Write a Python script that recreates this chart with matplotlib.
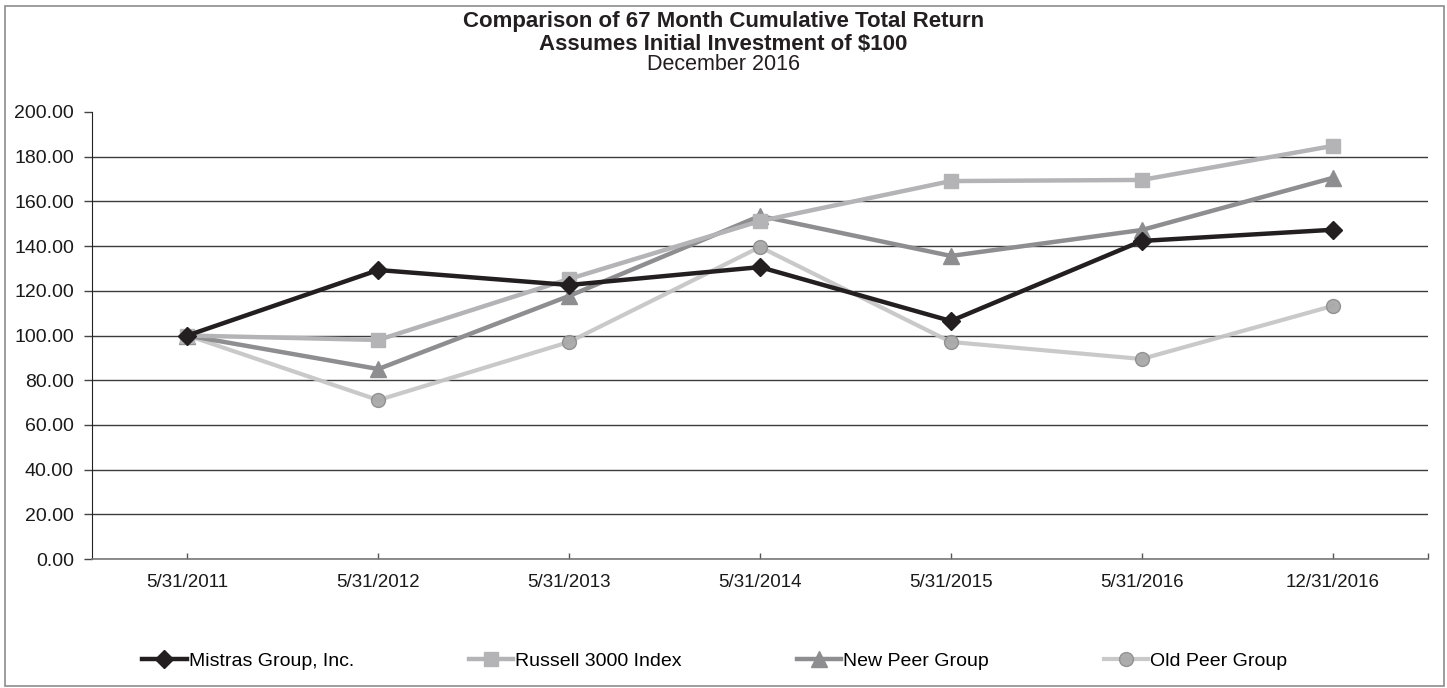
"""Comparison of 67 month cumulative total return - line chart."""
import matplotlib
matplotlib.use('Agg')
import matplotlib.pyplot as plt
from matplotlib.patches import Rectangle
from matplotlib.ticker import FormatStrFormatter

# data
dates = ['5/31/2011', '5/31/2012', '5/31/2013', '5/31/2014',
         '5/31/2015', '5/31/2016', '12/31/2016']
mistras = [100.0, 129.3, 122.6, 130.6, 106.5, 142.3, 147.3]
russell = [100.0, 98.0, 125.3, 151.2, 169.1, 169.6, 184.8]
new_peer = [100.0, 85.0, 117.7, 153.5, 135.6, 147.2, 170.5]
old_peer = [100.0, 71.1, 97.1, 139.6, 97.1, 89.5, 113.2]
y_ticks = [0, 20, 40, 60, 80, 100, 120, 140, 160, 180, 200]

plt.rcParams['font.family'] = ['Liberation Sans', 'DejaVu Sans']
title_font = ['Liberation Sans', 'DejaVu Sans']

fig = plt.figure(figsize=(14.47, 6.88), dpi=100)
ax = fig.add_axes([92 / 1447, 1 - 559 / 688, (1428 - 92) / 1447, (559 - 112) / 688])

# outer frame around the whole figure
fig.patches.append(Rectangle((5 / 1447, 2 / 688), 1439 / 1447, 680 / 688,
                             transform=fig.transFigure, fill=False,
                             edgecolor='#8c8c8c', linewidth=1.2))

x = list(range(len(dates)))
ax.plot(x, old_peer, color='#c6c6c6', lw=3, marker='o', ms=10,
        mfc='#a9a9a9', mec='#8f8f8f', mew=1, alpha=0.95,
        label='Old Peer Group', zorder=3)
ax.plot(x, new_peer, color='#8e8e90', lw=3.2, marker='^', ms=12,
        label='New Peer Group', zorder=4)
ax.plot(x, russell, color='#b4b4b7', lw=3.2, marker='s', ms=10,
        label='Russell 3000 Index', zorder=5)
ax.plot(x, mistras, color='#231f20', lw=3.2, marker='D', ms=9,
        label='Mistras Group, Inc.', zorder=6)

ax.set_xlim(-0.5, len(dates) - 0.5)
ax.set_ylim(0, 200)
ax.set_xticks(x)
ax.set_xticklabels(dates)
ax.set_xticks([len(dates) - 0.5], minor=True)
ax.set_yticks(y_ticks)
ax.yaxis.set_major_formatter(FormatStrFormatter('%.2f'))

ax.yaxis.grid(True, color='#3c3c3c', linewidth=1)
ax.get_ygridlines()[-1].set_visible(False)
ax.set_axisbelow(True)

for side in ['top', 'right']:
    ax.spines[side].set_visible(False)
ax.spines['left'].set_color('#222222')
ax.spines['bottom'].set_color('#7a7a7a')
ax.spines['bottom'].set_linewidth(1.2)

ax.tick_params(axis='y', length=6, width=1, color='#444444', pad=7,
               labelsize=14, labelcolor='#1a1a1a')
ax.tick_params(axis='x', which='both', direction='in', length=4, width=1,
               color='#555555', pad=11, labelsize=13.5, labelcolor='#1a1a1a')

# titles
fig.text(0.5, 1 - 22 / 688, 'Comparison of 67 Month Cumulative Total Return',
         ha='center', va='center', fontsize=16, fontweight='bold',
         family=title_font, color='#231f20')
fig.text(0.5, 1 - 44 / 688, 'Assumes Initial Investment of $100',
         ha='center', va='center', fontsize=16, fontweight='bold',
         family=title_font, color='#231f20')
fig.text(0.5, 1 - 65 / 688, 'December 2016',
         ha='center', va='center', fontsize=15.5,
         family=title_font, color='#231f20')

handles, labels = ax.get_legend_handles_labels()
order = [3, 2, 1, 0]
fig.legend([handles[i] for i in order], [labels[i] for i in order],
           loc='center left', bbox_to_anchor=(142 / 1447, 1 - 661 / 688),
           ncol=4, frameon=False, fontsize=14, handlelength=2.3,
           handletextpad=0.1, columnspacing=5.9, borderpad=0,
           borderaxespad=0)

fig.savefig('out.png', dpi=100)
